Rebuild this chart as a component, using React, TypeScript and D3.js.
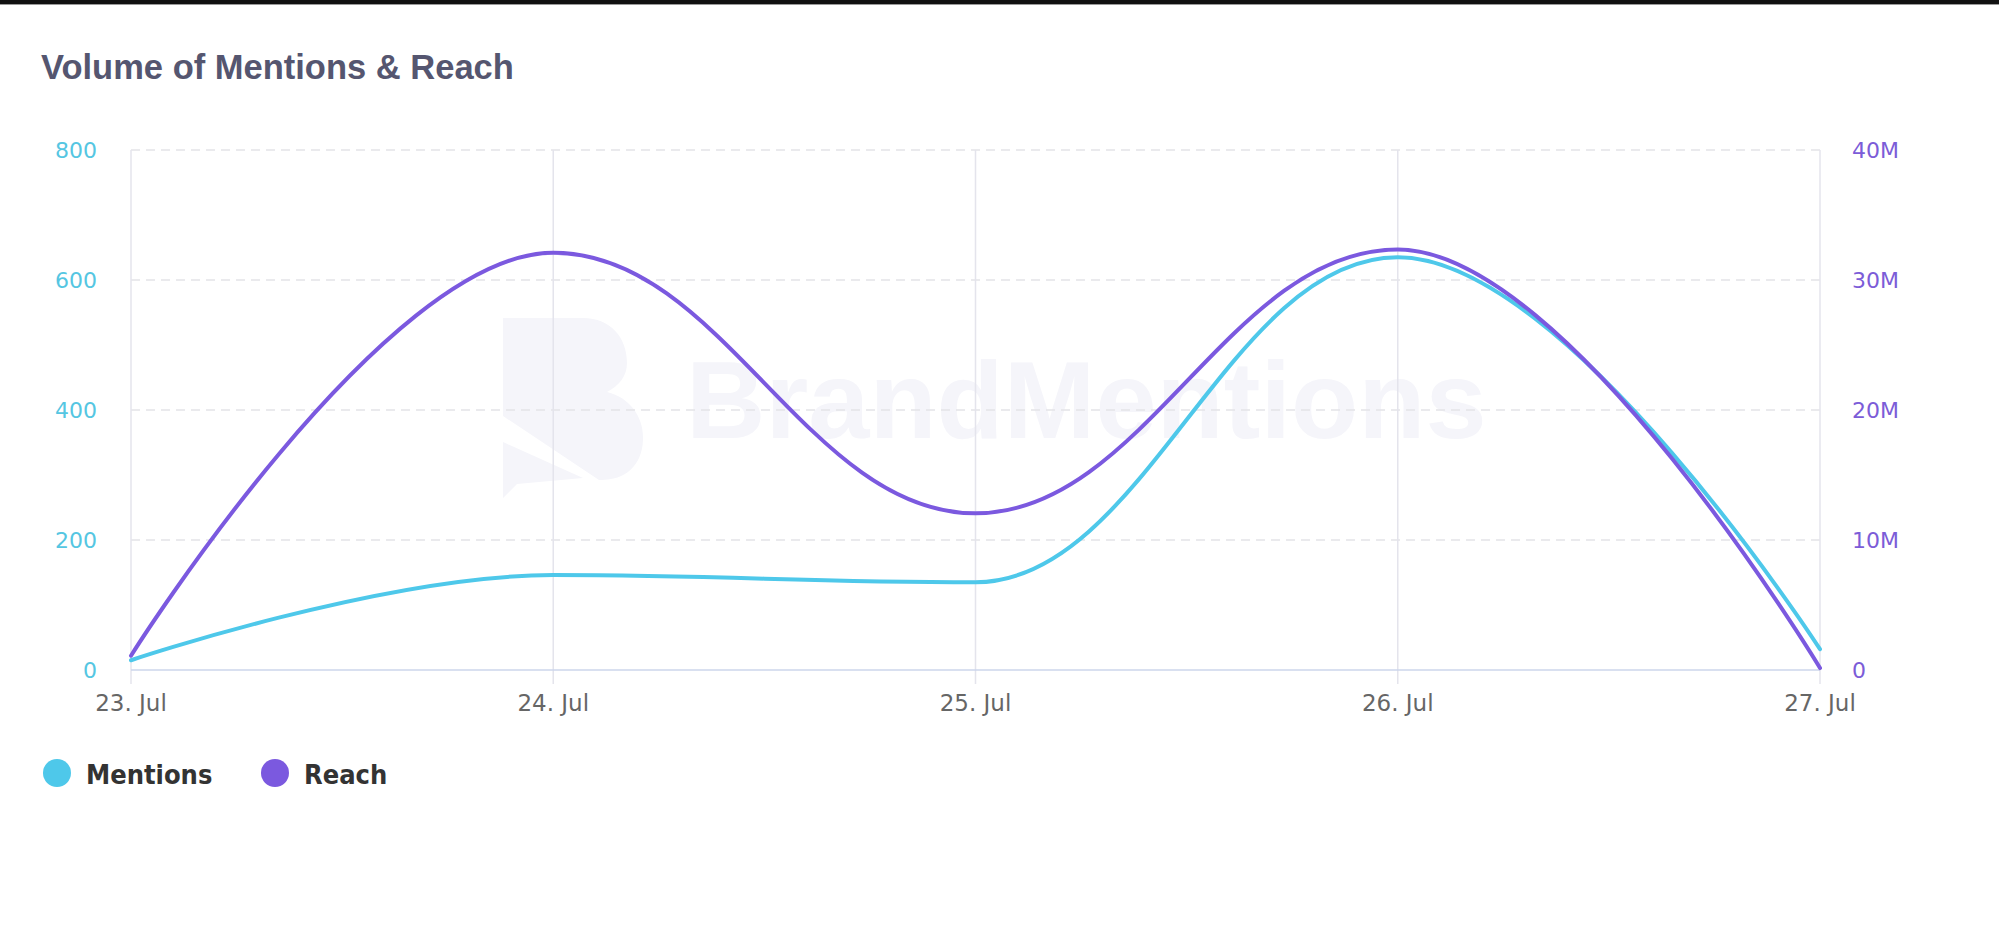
import React from "react";
import * as d3 from "d3";

const dates = ["23. Jul", "24. Jul", "25. Jul", "26. Jul", "27. Jul"];
const mentions = [15, 146, 135, 635, 32];
const reach = [1.1e6, 32.1e6, 12.05e6, 32.35e6, 0.15e6];
const leftTicks = [0, 200, 400, 600, 800];
const rightTicks = [0, 10e6, 20e6, 30e6, 40e6];
const rightTickLabels = ["0", "10M", "20M", "30M", "40M"];
const seriesNames = ["Mentions", "Reach"];
const seriesColors = ["#4ec8ea", "#7b59df"];

const W = 1999;
const H = 951;
const M = { left: 131, right: 1820, top: 150, bottom: 670 };

// Highcharts-like spline through points
function splinePath(pts: [number, number][]): string {
  const p = d3.path();
  const smoothing = 1.5;
  const denom = smoothing + 1;
  const rc: ([number, number] | null)[] = pts.map(() => null);
  const lc: ([number, number] | null)[] = pts.map(() => null);
  for (let i = 1; i < pts.length - 1; i++) {
    const [x, y] = pts[i];
    const [lx, ly] = pts[i - 1];
    const [nx, ny] = pts[i + 1];
    const lcx = (smoothing * x + lx) / denom;
    let lcy = (smoothing * y + ly) / denom;
    const rcx = (smoothing * x + nx) / denom;
    let rcy = (smoothing * y + ny) / denom;
    if (rcx !== lcx) {
      const corr = ((rcy - lcy) * (rcx - x)) / (rcx - lcx) + y - rcy;
      lcy += corr;
      rcy += corr;
      if (lcy > ly && lcy > y) {
        lcy = Math.max(ly, y);
        rcy = 2 * y - lcy;
      } else if (lcy < ly && lcy < y) {
        lcy = Math.min(ly, y);
        rcy = 2 * y - lcy;
      }
      if (rcy > ny && rcy > y) {
        rcy = Math.max(ny, y);
        lcy = 2 * y - rcy;
      } else if (rcy < ny && rcy < y) {
        rcy = Math.min(ny, y);
        lcy = 2 * y - rcy;
      }
    }
    lc[i] = [lcx, lcy];
    rc[i] = [rcx, rcy];
  }
  p.moveTo(pts[0][0], pts[0][1]);
  for (let i = 1; i < pts.length; i++) {
    const a = rc[i - 1] || pts[i - 1];
    const b = lc[i] || pts[i];
    p.bezierCurveTo(a[0], a[1], b[0], b[1], pts[i][0], pts[i][1]);
  }
  return p.toString();
}

export default function App() {
  const x = d3.scalePoint<string>().domain(dates).range([M.left, M.right]).padding(0);
  const yL = d3.scaleLinear().domain([0, 800]).range([M.bottom, M.top]);
  const yR = d3.scaleLinear().domain([0, 40e6]).range([M.bottom, M.top]);

  const mPts = dates.map((d, i) => [x(d) as number, yL(mentions[i])] as [number, number]);
  const rPts = dates.map((d, i) => [x(d) as number, yR(reach[i])] as [number, number]);

  const axisFont = "'DejaVu Sans', Verdana, sans-serif";
  const wmColor = "#f5f5fa";
  const lx = 503, ly = 318;

  return (
    <div style={{ position: "fixed", left: 0, top: 0, width: W, height: H, background: "#fff" }}>
      <svg width={W} height={H} viewBox={`0 0 ${W} ${H}`} style={{ display: "block" }}>
        <rect x={0} y={0} width={W} height={H} fill="#ffffff" />
        <rect x={0} y={0} width={W} height={4} fill="#111111" />
        <rect x={0} y={4} width={W} height={1} fill="#9a9a9a" />

        <text x={41} y={79} fontFamily="'Liberation Sans', Arial, Helvetica, sans-serif" fontWeight="bold" fontSize={34.5} fill="#555670">
          Volume of Mentions &amp; Reach
        </text>

        {/* watermark */}
        <g transform={`translate(${lx},${ly})`} fill={wmColor}>
          <path d="M0,0 L80,0 C108,0 124,20 124,45 C124,58 116,68 104,74 C128,80 141,100 140,122 C139,148 122,162 98,162 L96,162 L0,98 Z" />
          <path d="M0,124 L80,160 L14,166 L0,180 Z" />
        </g>
        <text x={686} y={438} fontFamily="'Liberation Sans', Arial, sans-serif" fontWeight="bold" fontSize={110} fill={wmColor}>
          BrandMentions
        </text>

        {/* horizontal dashed grid */}
        {leftTicks.filter((t) => t > 0).map((t) => (
          <line key={"h" + t} x1={M.left} x2={M.right} y1={yL(t)} y2={yL(t)} stroke="#e3e3e8" strokeWidth={1.5} strokeDasharray="9,6" />
        ))}
        {/* vertical grid */}
        {dates.map((d) => (
          <line key={"v" + d} x1={x(d)} x2={x(d)} y1={M.top} y2={M.bottom + 14} stroke="#e4e4ec" strokeWidth={1.5} />
        ))}
        {/* x axis line */}
        <line x1={M.left} x2={M.right} y1={M.bottom} y2={M.bottom} stroke="#ccd6eb" strokeWidth={1.5} />

        {/* left axis labels */}
        {leftTicks.map((t) => (
          <text key={"l" + t} x={97} y={yL(t) + 8} textAnchor="end" fontFamily={axisFont} fontSize={22} fill="#55c6e2">
            {t}
          </text>
        ))}
        {/* right axis labels */}
        {rightTicks.map((t, i) => (
          <text key={"r" + t} x={1852} y={yR(t) + 8} textAnchor="start" fontFamily={axisFont} fontSize={22} fill="#7c5cd8">
            {rightTickLabels[i]}
          </text>
        ))}
        {/* x labels */}
        {dates.map((d) => (
          <text key={"x" + d} x={x(d)} y={711} textAnchor="middle" fontFamily={axisFont} fontSize={23} fill="#666666">
            {d}
          </text>
        ))}

        {/* series */}
        <path d={splinePath(mPts)} fill="none" stroke={seriesColors[0]} strokeWidth={4} strokeLinecap="round" strokeLinejoin="round" />
        <path d={splinePath(rPts)} fill="none" stroke={seriesColors[1]} strokeWidth={4} strokeLinecap="round" strokeLinejoin="round" />

        {/* legend */}
        {seriesNames.map((n, i) => {
          const cx = i === 0 ? 57 : 275;
          return (
            <g key={n}>
              <circle cx={cx} cy={773} r={14} fill={seriesColors[i]} />
              <text x={cx + 29} y={784} fontFamily="'DejaVu Sans Condensed', 'DejaVu Sans', sans-serif" fontWeight="bold" fontSize={27} fill="#333333">
                {n}
              </text>
            </g>
          );
        })}
      </svg>
    </div>
  );
}
